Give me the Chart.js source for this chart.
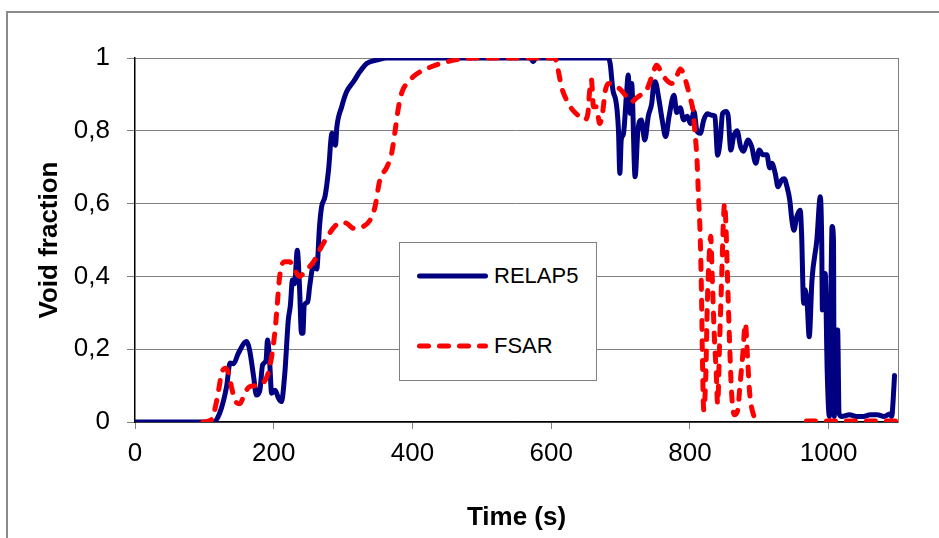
<!DOCTYPE html>
<html>
<head>
<meta charset="utf-8">
<script src="https://cdn.jsdelivr.net/npm/chart.js@4.4.1/dist/chart.umd.min.js"></script>
<style>
  body { margin: 0; background: #fff; }
  #wrap { position: relative; width: 939px; height: 538px; overflow: hidden; }
  #frame { position: absolute; left: 6px; top: 11px; width: 1000px; height: 600px;
           border-top: 2px solid #8a8a8a; border-left: 2px solid #8a8a8a; }
  canvas { position: absolute; left: 0; top: 0; }
  #legend { position: absolute; left: 399px; top: 242px; width: 196px; height: 137px;
            border: 1px solid #808080; background: #fff;
            font: 22px 'Liberation Sans', Arial, sans-serif; color: #000; }
  #legend .item { position: absolute; left: 17px; height: 30px; display: flex; align-items: center; }
  #legend svg { display: block; }
  #legend span { margin-left: 6px; }
</style>
</head>
<body>
<div id="wrap">
  <div id="frame"></div>
  <canvas id="voidChart" width="939" height="538"></canvas>
  <div id="legend"></div>
</div>
<script>
// RELAP5 void fraction vs time
const relapTime = [0, 113, 122, 132, 137, 142, 149, 161, 165, 171,
  175, 180, 184, 189, 191, 194, 197, 202, 207, 211,
  216, 221, 224, 227, 230, 234, 237, 240, 242, 244,
  249, 252, 257, 262, 266, 269, 274, 279, 284, 289,
  291, 298, 305, 315, 324, 334, 350, 363, 570, 574,
  578, 682, 685, 689, 693, 695, 697, 699, 701, 704,
  709, 711, 714, 716, 721, 725, 730, 735, 740, 745,
  748, 750, 755, 760, 765, 770, 777, 781, 786, 791,
  796, 801, 806, 810, 815, 820, 825, 832, 836, 840,
  844, 847, 852, 855, 859, 863, 868, 873, 877, 884,
  889, 895, 900, 905, 911, 915, 918, 923, 927, 932,
  936, 940, 944, 947, 950, 954, 959, 961, 964, 966,
  969, 972, 976, 983, 988, 990, 991, 995, 998, 1001,
  1003, 1005, 1007, 1008, 1011, 1013, 1015, 1019, 1030, 1040,
  1050, 1060, 1070, 1080, 1088, 1091, 1093, 1095];
const relapVoid = [0, 0, 0.024, 0.097, 0.162, 0.16, 0.189, 0.221, 0.2, 0.125,
  0.074, 0.087, 0.157, 0.17, 0.225, 0.17, 0.079, 0.087, 0.065, 0.056,
  0.134, 0.28, 0.32, 0.39, 0.38, 0.472, 0.38, 0.244, 0.244, 0.32,
  0.33, 0.375, 0.427, 0.42, 0.537, 0.591, 0.62, 0.692, 0.793, 0.76,
  0.81, 0.866, 0.907, 0.935, 0.962, 0.985, 0.995, 1, 1, 0.99,
  1, 1, 0.985, 0.912, 0.885, 0.857, 0.802, 0.683, 0.775, 0.79,
  0.912, 0.953, 0.848, 0.93, 0.674, 0.8, 0.83, 0.775, 0.84, 0.876,
  0.93, 0.935, 0.89, 0.83, 0.784, 0.84, 0.898, 0.85, 0.863, 0.83,
  0.84, 0.82, 0.853, 0.8, 0.793, 0.83, 0.847, 0.843, 0.84, 0.733,
  0.78, 0.847, 0.853, 0.843, 0.747, 0.784, 0.8, 0.757, 0.744, 0.775,
  0.757, 0.711, 0.747, 0.734, 0.734, 0.698, 0.711, 0.683, 0.646, 0.664,
  0.668, 0.646, 0.609, 0.555, 0.527, 0.564, 0.582, 0.518, 0.326, 0.363,
  0.326, 0.234, 0.39, 0.5, 0.619, 0.5, 0.308, 0.408, 0.134, 0.015,
  0.317, 0.537, 0.5, 0.015, 0.253, 0.253, 0.024, 0.015, 0.02, 0.015,
  0.015, 0.02, 0.02, 0.015, 0.022, 0.015, 0.06, 0.128];

// FSAR void fraction vs time (null = no line drawn)
const fsarTime = [98, 110, 118, 125, 130, 135, 139, 144, 151, 158,
  165, 175, 184, 192, 197, 202, 205, 208, 211, 216,
  223, 230, 237, 244, 252, 259, 266, 276, 286, 296,
  305, 315, 329, 339, 346, 353, 363, 370, 375, 380,
  385, 392, 402, 411, 430, 455, 490, 605, 610, 615,
  622, 631, 641, 648, 653, 655, 658, 661, 665, 670,
  674, 678, 683, 690, 699, 709, 716, 723, 730, 737,
  745, 752, 759, 766, 774, 781, 786, 790, 795, 800,
  805, 807, 810, 812, 815, 817, 818, 820, 823, 825,
  828, 830, 832, 835, 838, 840, 843, 846, 848, 850,
  852, 854, 857, 860, 864, 869, 872, 876, 880, 883,
  886, 891, 896, 930, 968, 1100];
const fsarVoid = [0, 0.006, 0.06, 0.134, 0.148, 0.134, 0.097, 0.06, 0.05, 0.078,
  0.097, 0.1, 0.106, 0.134, 0.18, 0.253, 0.32, 0.39, 0.427, 0.44,
  0.44, 0.418, 0.4, 0.41, 0.427, 0.445, 0.472, 0.505, 0.533, 0.548,
  0.546, 0.532, 0.537, 0.555, 0.591, 0.665, 0.7, 0.738, 0.8, 0.866,
  0.907, 0.93, 0.95, 0.962, 0.978, 0.992, 1, 1, 0.967, 0.92,
  0.885, 0.857, 0.839, 0.83, 0.848, 0.9, 0.94, 0.866, 0.866, 0.82,
  0.848, 0.91, 0.93, 0.925, 0.915, 0.893, 0.88, 0.89, 0.9, 0.91,
  0.948, 0.98, 0.96, 0.94, 0.93, 0.95, 0.97, 0.96, 0.93, 0.893,
  0.848, 0.8, 0.729, 0.638, 0.5, 0.317, 0.18, 0.033, 0.134, 0.317,
  0.463, 0.51, 0.41, 0.244, 0.134, 0.05, 0.23, 0.41, 0.537, 0.6,
  0.537, 0.41, 0.23, 0.083, 0.02, 0.033, 0.097, 0.18, 0.271, 0.18,
  0.083, 0.024, 0.007, null, 0.003, 0.003];

const seriesNames = ['RELAP5', 'FSAR'];
const xTicks = [0, 200, 400, 600, 800, 1000];
const xTickLabels = ['0', '200', '400', '600', '800', '1000'];
const yTicks = [0, 0.2, 0.4, 0.6, 0.8, 1];
const yTickLabels = ['0', '0,2', '0,4', '0,6', '0,8', '1'];

const toPoints = (xs, ys) => xs.map((x, i) => ({ x: x, y: ys[i] }));

Chart.defaults.font.family = "'Liberation Sans', Arial, sans-serif";
Chart.defaults.color = '#000';

// grey right edge of the plot area
const plotFrame = {
  id: 'plotFrame',
  beforeDatasetsDraw(chart) {
    const { ctx, chartArea: { top, bottom, right } } = chart;
    ctx.save();
    ctx.strokeStyle = '#808080';
    ctx.lineWidth = 1;
    ctx.beginPath();
    ctx.moveTo(Math.round(right) + 0.5, top);
    ctx.lineTo(Math.round(right) + 0.5, bottom);
    ctx.stroke();
    ctx.restore();
  }
};

// legend box built from the datasets
const htmlLegend = {
  id: 'htmlLegend',
  afterUpdate(chart) {
    const box = document.getElementById('legend');
    box.innerHTML = '';
    chart.data.datasets.forEach((ds, i) => {
      const item = document.createElement('div');
      item.className = 'item';
      item.style.top = (18 + i * 70) + 'px';
      const dash = ds.borderDash ? ' stroke-dasharray="' + ds.borderDash.join(' ') + '"' : '';
      item.innerHTML = '<svg width="71" height="10"><line x1="2.5" y1="5" x2="68.5" y2="5" stroke="' +
        ds.borderColor + '" stroke-width="5" stroke-linecap="round"' + dash + '/></svg>';
      const label = document.createElement('span');
      label.textContent = ds.label;
      item.appendChild(label);
      box.appendChild(item);
    });
  }
};

const ctx = document.getElementById('voidChart').getContext('2d');
const voidChart = new Chart(ctx, {
  type: 'line',
  data: {
    datasets: [{
      label: seriesNames[0],
      data: toPoints(relapTime, relapVoid),
      borderColor: '#000080',
      borderWidth: 5,
      pointRadius: 0,
      cubicInterpolationMode: 'monotone',
      borderJoinStyle: 'round',
      borderCapStyle: 'round',
      order: 1
    }, {
      label: seriesNames[1],
      data: toPoints(fsarTime, fsarVoid),
      borderColor: '#ff0000',
      borderWidth: 5,
      borderDash: [9, 11],
      borderCapStyle: 'round',
      borderJoinStyle: 'round',
      pointRadius: 0,
      cubicInterpolationMode: 'monotone',
      spanGaps: false,
      order: 0
    }]
  },
  options: {
    responsive: false,
    animation: false,
    layout: { padding: { top: 58, right: 41, left: 0, bottom: 0 } },
    plugins: { legend: { display: false }, tooltip: { enabled: false } },
    scales: {
      x: {
        type: 'linear',
        min: 0,
        max: 1100,
        afterBuildTicks: (scale) => { scale.ticks = xTicks.map(v => ({ value: v })); },
        afterFit: (scale) => { scale.height = 116; },
        grid: { drawOnChartArea: false, drawTicks: true, tickLength: 7, color: '#808080' },
        border: { color: '#000', width: 1.5 },
        ticks: {
          font: { size: 26 },
          padding: 9,
          maxRotation: 0,
          callback: (value, index) => xTickLabels[index]
        },
        title: { display: true, text: 'Time (s)', font: { size: 26, weight: 'bold' }, padding: { top: 0, bottom: 5 } }
      },
      y: {
        min: 0,
        max: 1,
        afterBuildTicks: (scale) => { scale.ticks = yTicks.map(v => ({ value: v })); },
        afterFit: (scale) => { scale.width = 135; },
        grid: { color: '#808080', tickLength: 8 },
        border: { color: '#000', width: 1.5 },
        ticks: {
          font: { size: 26 },
          padding: 17,
          callback: (value, index) => yTickLabels[index]
        },
        title: { display: true, text: 'Void fraction', font: { size: 26, weight: 'bold' }, padding: { top: 34, bottom: 0 } }
      }
    }
  },
  plugins: [plotFrame, htmlLegend]
});
</script>
</body>
</html>
